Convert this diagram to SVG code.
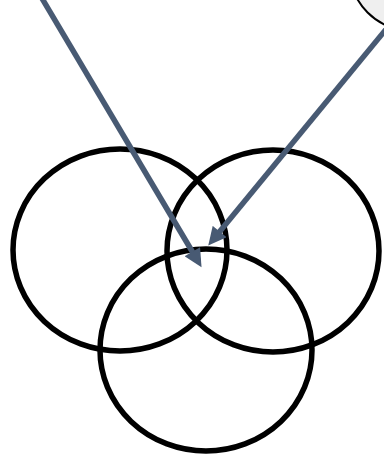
<svg xmlns="http://www.w3.org/2000/svg" width="384" height="454" viewBox="0 0 384 454">
<defs>
<style>
.ring{fill:none;stroke:#000;stroke-width:5.5}
.conn{stroke:#485a73;stroke-width:5.5;fill:none}
</style>
<marker id="ah" viewBox="0 0 10 10" refX="0.5" refY="5" markerUnits="userSpaceOnUse" markerWidth="19" markerHeight="18" orient="auto">
<path d="M0,0 L10,5 L0,10 z" fill="#485a73"/>
</marker>
</defs>
<rect width="384" height="454" fill="#fff"/>
<g id="corner-node"><circle cx="410" cy="-30" r="60" fill="#efefef" stroke="#000" stroke-width="2"/></g>
<g id="circle-left"><ellipse class="ring" cx="120" cy="250" rx="107" ry="101"/></g>
<g id="circle-right"><ellipse class="ring" cx="273" cy="251" rx="106" ry="101"/></g>
<g id="circle-bottom"><ellipse class="ring" cx="206" cy="350" rx="106" ry="101"/></g>
<g id="connectors">
<line class="conn" x1="40" y1="-5" x2="192.8" y2="252.5" marker-end="url(#ah)"/>
<line class="conn" x1="392" y1="22" x2="219.1" y2="232.3" marker-end="url(#ah)"/>
</g>
</svg>
